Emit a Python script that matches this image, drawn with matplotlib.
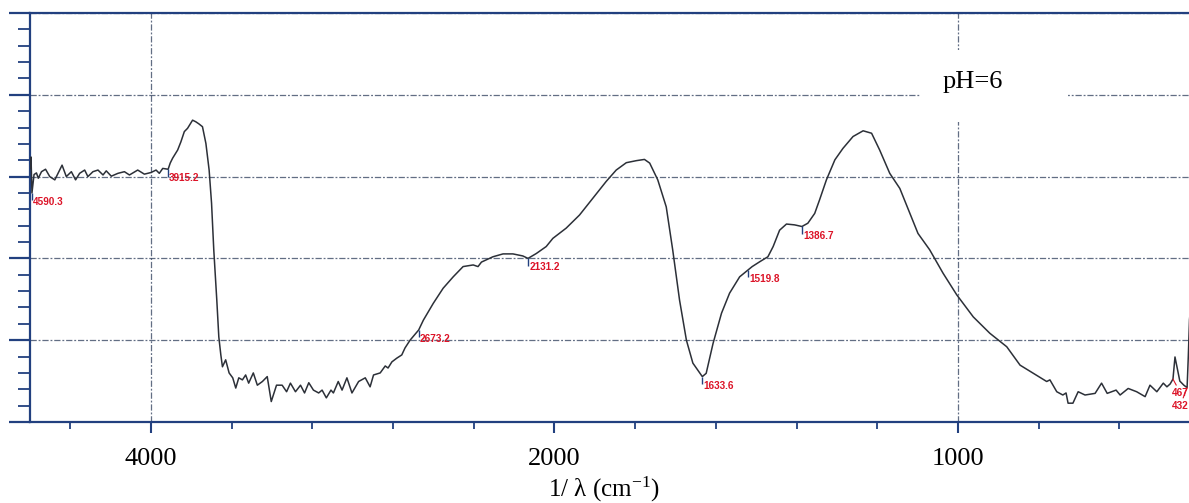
import numpy as np
import matplotlib
matplotlib.use("Agg")
import matplotlib.pyplot as plt
from matplotlib.patches import Rectangle

plt.rcParams['mathtext.fontset'] = 'custom'
plt.rcParams['mathtext.rm'] = 'Liberation Serif'
plt.rcParams['mathtext.it'] = 'Liberation Serif:italic'

# FTIR spectrum, pH = 6 (wavenumber in cm^-1, transmittance in %)
wavenumber = [
    4598, 4595, 4590.3, 4580, 4568, 4559, 4543, 4523, 4502, 4477,
    4461, 4441, 4420, 4395, 4374, 4354, 4329, 4313, 4288, 4263,
    4238, 4222, 4197, 4164, 4132, 4107, 4066, 4033, 4000, 3975,
    3959, 3942, 3915.2, 3905, 3893, 3868, 3852, 3835, 3819, 3794,
    3778, 3763, 3745, 3728, 3712, 3700, 3689, 3674, 3664, 3654,
    3646, 3630, 3613, 3595, 3580, 3565, 3547, 3531, 3516, 3493,
    3473, 3448, 3424, 3404, 3378, 3350, 3328, 3309, 3284, 3259,
    3239, 3218, 3195, 3169, 3152, 3131, 3108, 3096, 3072, 3053,
    3029, 3004, 2971, 2938, 2914, 2897, 2864, 2839, 2825, 2806,
    2782, 2757, 2741, 2716, 2673.2, 2650, 2601, 2552, 2502, 2453,
    2403, 2379, 2362, 2305, 2255, 2206, 2157, 2131.2, 2090, 2041,
    2008, 1971, 1938, 1905, 1872, 1847, 1822, 1797, 1777, 1764,
    1744, 1723, 1707, 1690, 1673, 1657, 1633.6, 1624, 1607, 1586,
    1566, 1541, 1519.8, 1510, 1491, 1471, 1458, 1442, 1425, 1405,
    1386.7, 1372, 1355, 1343, 1326, 1305, 1285, 1260, 1235, 1214,
    1194, 1169, 1144, 1119, 1099, 1070, 1037, 1003, 962, 921,
    879, 846, 813, 780, 772, 755, 740, 732, 727, 715,
    702, 685, 660, 644, 630, 608, 598, 578, 557, 536,
    524, 507, 491, 482, 474, 467, 462, 450, 440, 432,
    429, 426, 420,
]
transmittance = [
    62.0, 64.8, 56.0, 60.5, 60.9, 59.6, 61.2, 61.8, 60.0, 59.2,
    60.8, 62.8, 60.0, 61.2, 59.2, 60.8, 61.6, 60.0, 61.2, 61.6,
    60.4, 61.4, 60.1, 60.8, 61.2, 60.4, 61.6, 60.6, 61.0, 61.6,
    60.8, 62.0, 61.8, 63.3, 64.5, 66.5, 68.5, 71.0, 71.8, 73.8,
    73.4, 72.9, 72.2, 68.1, 61.6, 53.5, 42.1, 29.8, 20.8, 16.4,
    13.5, 15.2, 12.0, 10.8, 8.3, 10.8, 10.3, 11.5, 9.5, 12.0,
    9.0, 9.9, 11.1, 5.0, 9.0, 9.0, 7.4, 9.5, 7.4, 9.0,
    7.1, 9.6, 7.8, 7.1, 7.8, 5.9, 7.8, 7.1, 9.9, 7.8,
    10.8, 7.1, 9.9, 10.8, 8.6, 11.5, 12.0, 13.7, 13.2, 14.7,
    15.6, 16.4, 18.1, 20.0, 22.5, 24.9, 29.0, 32.7, 35.5, 38.0,
    38.4, 38.0, 39.1, 40.4, 41.1, 41.1, 40.6, 40.0, 41.2, 42.9,
    44.9, 47.4, 50.6, 54.7, 58.8, 61.6, 63.4, 63.9, 64.2, 63.3,
    59.2, 52.6, 42.1, 29.8, 20.0, 14.4, 11.1, 11.9, 19.2, 26.6,
    31.5, 35.5, 37.2, 38.0, 39.2, 40.4, 42.9, 46.9, 48.4, 48.2,
    47.8, 48.6, 51.0, 54.3, 59.2, 64.1, 66.9, 69.8, 71.2, 70.6,
    66.5, 60.8, 57.1, 51.0, 46.1, 42.1, 36.4, 31.1, 25.7, 21.7,
    18.4, 13.9, 11.9, 9.9, 10.3, 7.4, 6.6, 7.1, 4.6, 4.6,
    7.4, 6.6, 7.0, 9.5, 7.0, 7.8, 6.6, 8.2, 7.4, 6.2,
    9.0, 7.4, 9.5, 8.6, 9.3, 10.5, 15.9, 10.0, 9.0, 8.4,
    16.0, 25.0, 32.0,
]
assert len(wavenumber) == len(transmittance)

# labelled peaks
peak_wn = [4590.3, 3915.2, 2673.2, 2131.2, 1633.6, 1519.8, 1386.7]
edge_peaks = [467, 432]

x_major = [4000, 2000, 1000]
x_major_labels = ["4000", "2000", "1000"]
x_minor = [4400, 3600, 3200, 2800, 2400, 1800, 1600, 1400, 1200, 800, 600, 400]
x_grid = [4000, 1000]

AXIS_C = "#22407f"
GRID_C = "#3b4a66"
LINE_C = "#2c3038"
RED = "#dc1428"


# wavenumber axis compressed by a factor two above 2000 cm^-1
def fwd(w):
    w = np.asarray(w, dtype=float)
    return np.where(w > 2000, 2000 + (w - 2000) / 2.0, w)


def inv(t):
    t = np.asarray(t, dtype=float)
    return np.where(t > 2000, 2000 + (t - 2000) * 2.0, t)


fig = plt.figure(figsize=(11.89, 5.03), dpi=100)
ax = fig.add_axes([30 / 1189, 81 / 503, 1170 / 1189, 409 / 503])
ax.set_xscale("function", functions=(fwd, inv))
ax.set_xlim(4600, 400)
ax.set_ylim(0, 100)

wn = np.array(wavenumber)
tr = np.array(transmittance)
ax.plot(wn, tr, color=LINE_C, lw=1.1, zorder=4)

# ticks
ax.set_xticks(x_major)
ax.set_xticklabels(x_major_labels)
ax.set_xticks(x_minor, minor=True)
ax.set_yticks(np.arange(0, 101, 20))
ax.set_yticks(np.arange(0, 101, 4), minor=True)
ax.tick_params(axis="x", which="major", length=8, width=1.5, color=AXIS_C,
               pad=11, labelsize=19, labelfontfamily="Liberation Serif")
ax.tick_params(axis="x", which="minor", length=5, width=1.3, color=AXIS_C)
ax.tick_params(axis="y", which="major", length=15, width=1.6, color=AXIS_C,
               labelleft=False)
ax.tick_params(axis="y", which="minor", length=8.5, width=1.3, color=AXIS_C)

for s in ax.spines.values():
    s.set_color(AXIS_C)
    s.set_linewidth(1.6)

grid_style = dict(color=GRID_C, lw=0.9, ls=(0, (5, 1.5, 1.5, 1.5)), alpha=0.8)
ax.grid(axis="y", which="major", **grid_style)
for g in x_grid:
    ax.axvline(g, zorder=1, **grid_style)

# peak markers with their wavenumber labels
peak_tr = np.interp(peak_wn, wn[::-1], tr[::-1])
ax.vlines(peak_wn, peak_tr - 1.8, peak_tr, color=AXIS_C, lw=1.0, zorder=5)
for w, t in zip(peak_wn, peak_tr):
    ax.annotate(f"{w:.1f}", xy=(w, t), xytext=(0.8, -6.5),
                textcoords="offset points", ha="left", va="center",
                fontsize=7.2, fontweight="bold", color=RED,
                family="Liberation Sans", zorder=6)

edge_tr = np.interp(edge_peaks, wn[::-1], tr[::-1])
for w, t, off in zip(edge_peaks, edge_tr, [(-0.7, -10), (-11, -13)]):
    ax.annotate(f"{w}", xy=(w, t), xytext=off, textcoords="offset points",
                ha="left", va="center", fontsize=7.2, fontweight="bold",
                color=RED, family="Liberation Sans", zorder=6,
                arrowprops=dict(arrowstyle="-", color=RED, lw=0.8,
                                shrinkA=0, shrinkB=0))

# sample label on a white patch
ax.add_patch(Rectangle((0.761, 0.733), 0.126, 0.177, transform=ax.transAxes,
                       facecolor="white", edgecolor="none", zorder=3))
ax.text(0.780, 0.817, "pH=6", transform=ax.transAxes, ha="left",
        va="baseline", fontsize=19, family="Liberation Serif", zorder=5)

fig.text(604 / 1189, 6 / 503, r"1/ λ (cm$^{\mathregular{-1}}$)",
         ha="center", va="baseline", fontsize=18, family="Liberation Serif")

fig.savefig("out.png", dpi=100)
